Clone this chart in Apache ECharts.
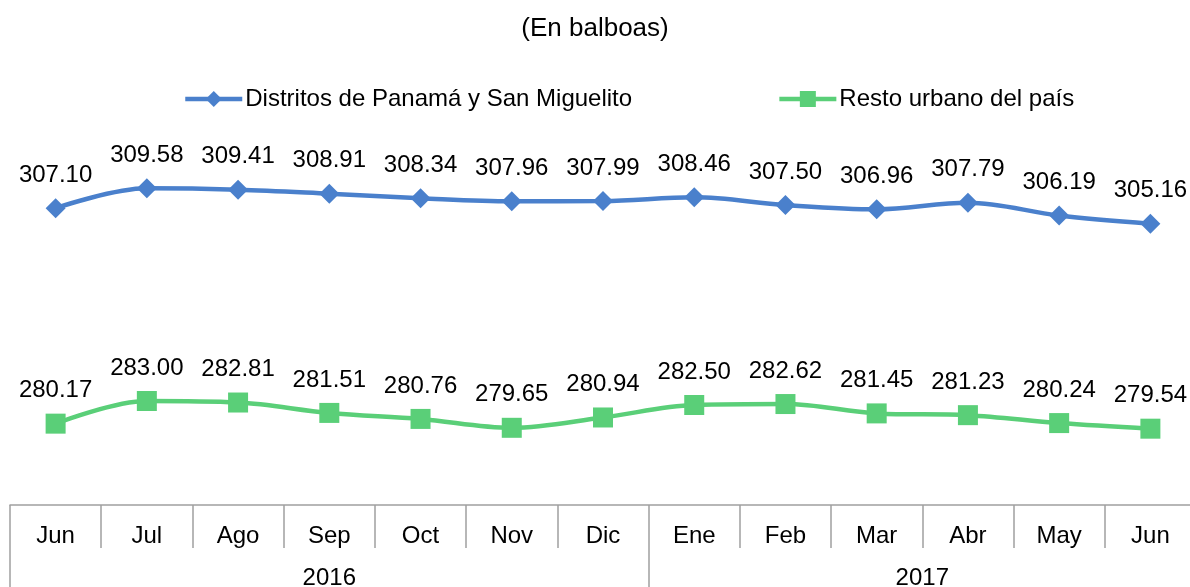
<!DOCTYPE html>
<html>
<head>
<meta charset="utf-8">
<script src="https://cdn.jsdelivr.net/npm/echarts@6/dist/echarts.min.js"></script>
<style>
  html, body { margin: 0; padding: 0; background: #fff; }
  #chart { width: 1190px; height: 587px; }
</style>
</head>
<body>
<div id="chart"></div>
<script>
const months = ['Jun', 'Jul', 'Ago', 'Sep', 'Oct', 'Nov', 'Dic', 'Ene', 'Feb', 'Mar', 'Abr', 'May', 'Jun']
const panama = [307.10, 309.58, 309.41, 308.91, 308.34, 307.96, 307.99, 308.46, 307.50, 306.96, 307.79, 306.19, 305.16]
const resto = [280.17, 283.00, 282.81, 281.51, 280.76, 279.65, 280.94, 282.50, 282.62, 281.45, 281.23, 280.24, 279.54]
// year label sits at the middle of its group of months
const years = [{ name: '2016', at: 3 }, { name: '2017', at: 9.5 }]
const yearStarts = [0, 7]

const font = 'Liberation Sans, Arial, sans-serif'
const blue = '#4a80cc'
const green = '#5acf78'
const gridLine = '#a0a0a0'

const chart = echarts.init(document.getElementById('chart'))

const option = {
  animation: false,
  title: {
    text: '(En balboas)',
    left: 'center',
    top: 11,
    textStyle: { fontFamily: font, fontSize: 26, fontWeight: 'normal', color: '#000' }
  },
  legend: {
    top: 82,
    left: 178,
    itemWidth: 57,
    itemHeight: 20,
    itemGap: 145,
    lineStyle: { width: 4.5 },
    textStyle: { fontFamily: font, fontSize: 24, color: '#000', padding: [0, 0, 0, -2] },
    data: ['Distritos de Panamá y San Miguelito', 'Resto urbano del país']
  },
  grid: { left: 10, width: 1186, top: 105, bottom: 82, outerBoundsMode: 'none' },
  xAxis: [
    {
      type: 'category',
      data: months,
      position: 'bottom',
      axisLine: { lineStyle: { color: gridLine, width: 1.5 } },
      axisTick: { show: true, length: 43, lineStyle: { color: gridLine, width: 1.5 } },
      axisLabel: { margin: 19, fontFamily: font, fontSize: 24, color: '#000', interval: 0 }
    },
    {
      type: 'category',
      data: months,
      position: 'bottom',
      axisLine: { show: false },
      axisTick: {
        show: true,
        length: 82,
        interval: (index) => yearStarts.indexOf(index) !== -1,
        lineStyle: { color: gridLine, width: 1.5 }
      },
      axisLabel: { show: false }
    },
    {
      type: 'value',
      position: 'bottom',
      min: -0.5,
      max: 12.5,
      interval: 0.5,
      axisLine: { show: false },
      axisTick: { show: false },
      splitLine: { show: false },
      axisLabel: {
        margin: 61,
        fontFamily: font,
        fontSize: 24,
        color: '#000',
        formatter: (v) => {
          const y = years.find(item => Math.abs(item.at - v) < 1e-6)
          return y ? y.name : ''
        }
      }
    }
  ],
  yAxis: {
    type: 'value',
    min: 270,
    max: 320,
    show: false,
    splitLine: { show: false }
  },
  series: [
    {
      name: 'Distritos de Panamá y San Miguelito',
      type: 'line',
      smooth: 0.35,
      data: panama,
      symbol: 'diamond',
      symbolSize: 20,
      itemStyle: { color: blue },
      lineStyle: { color: blue, width: 4.5 },
      label: {
        show: true,
        position: 'top',
        distance: 11,
        fontFamily: font,
        fontSize: 24,
        color: '#000',
        formatter: (p) => p.value.toFixed(2)
      }
    },
    {
      name: 'Resto urbano del país',
      type: 'line',
      smooth: 0.35,
      data: resto,
      symbol: 'rect',
      symbolSize: 20,
      itemStyle: { color: green },
      lineStyle: { color: green, width: 4.5 },
      label: {
        show: true,
        position: 'top',
        distance: 11,
        fontFamily: font,
        fontSize: 24,
        color: '#000',
        formatter: (p) => p.value.toFixed(2)
      }
    }
  ]
}

chart.setOption(option)
</script>
</body>
</html>
